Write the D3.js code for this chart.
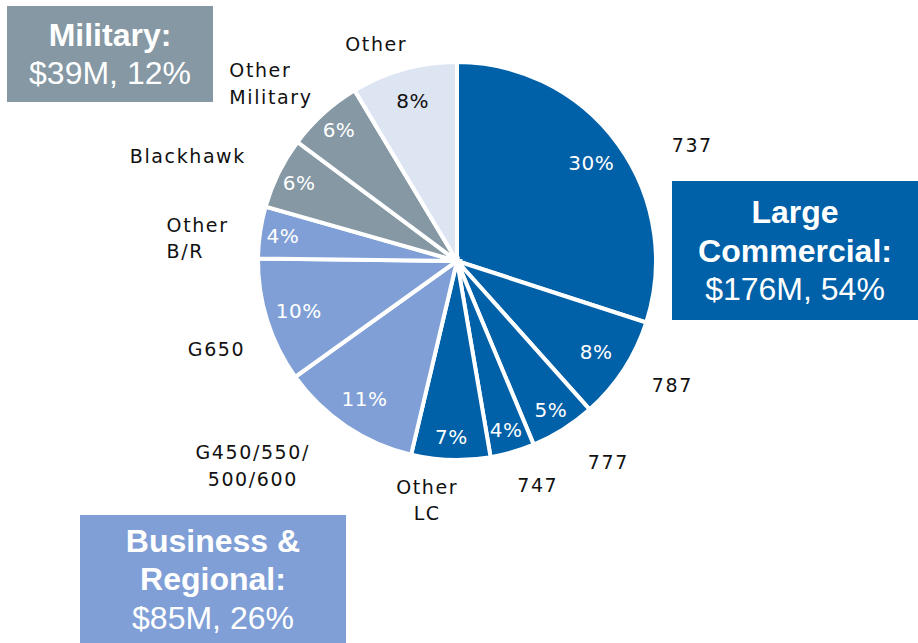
<!DOCTYPE html>
<html><head><meta charset="utf-8">
<script src="https://cdn.jsdelivr.net/npm/d3@7"></script>
<style>body{margin:0;background:#fff}svg{display:block}</style>
</head><body>
<svg id="c" width="918" height="643"></svg>
<script>
// ---- data ----
const categories = ["737","787","777","747","Other LC","G450/550/500/600","G650","Other B/R","Blackhawk","Other Military","Other"];
const shares = [30.0, 8.4, 5.3, 3.6, 6.4, 11.4, 10.1, 4.2, 5.8, 6.2, 8.6];
const pctLabels = ["30%","8%","5%","4%","7%","11%","10%","4%","6%","6%","8%"];
const segments = ["LC","LC","LC","LC","LC","BR","BR","BR","MIL","MIL","OTH"];
const labelLines = [["737"],["787"],["777"],["747"],["Other","LC"],["G450/550/","500/600"],["G650"],["Other","B/R"],["Blackhawk"],["Other","Military"],["Other"]];
const groupNames = ["Large Commercial:", "Business & Regional:", "Military:"];
const groupTitles = [["Large","Commercial:"],["Business &","Regional:"],["Military:"]];
const groupValues = ["$176M, 54%","$85M, 26%","$39M, 12%"];

// ---- style ----
const colors = {LC:"#0060A8", BR:"#7F9FD6", MIL:"#8598A4", OTH:"#DDE5F3"};
const cx = 457, cy = 261, R = 199;
// label nudges (style only)
const nudge = {
  "737":{dx:33,dy:31,a:"middle"}, "787":{dx:6,dy:-13,a:"middle"}, "777":{dx:18,dy:-11,a:"middle"},
  "747":{dx:11,dy:-16,a:"middle"}, "Other LC":{dx:-22,dy:-11,a:"middle"},
  "G450/550/500/600":{dx:-65,dy:-3,a:"middle"}, "G650":{dx:-2,dy:13,a:"middle"},
  "Other B/R":{dx:-43,dy:13,a:"start"}, "Blackhawk":{dx:-45,dy:6,a:"middle"},
  "Other Military":{dx:-60,dy:8,a:"start"}, "Other":{dx:-14,dy:24,a:"middle"}
};

const svg = d3.select("#c");
const data = categories.map((c,i)=>({name:c, value:shares[i], pct:pctLabels[i], seg:segments[i], lines:labelLines[i]}));
const pie = d3.pie().value(d=>d.value).sort(null);
const arcs = pie(data);
const arc = d3.arc().innerRadius(0).outerRadius(R);
const pctArc = d3.arc().innerRadius(166).outerRadius(166);
const labArc = d3.arc().innerRadius(250).outerRadius(250);

const g = svg.append("g").attr("transform",`translate(${cx},${cy})`);
g.selectAll("path.s").data(arcs).join("path").attr("class","s")
  .attr("d",arc).attr("fill",d=>colors[d.data.seg])
  .attr("stroke","#fff").attr("stroke-width",4).attr("stroke-linejoin","miter");

g.selectAll("text.p").data(arcs).join("text").attr("class","p")
  .attr("transform",d=>{const [x,y]=pctArc.centroid(d); const k=(d.endAngle-d.startAngle)<0.45?1.06:1; return `translate(${x*k},${y*k})`;})
  .attr("text-anchor","middle").attr("dominant-baseline","central")
  .attr("font-family","DejaVu Sans, Verdana, sans-serif").attr("font-size",20)
  .attr("letter-spacing",0.5)
  .attr("fill",d=>d.data.seg==="OTH"?"#111":"#fff")
  .text(d=>d.data.pct);

const lh = 26.5;
g.selectAll("text.l").data(arcs).join("text").attr("class","l")
  .each(function(d){
    const n = nudge[d.data.name];
    const [x,y] = labArc.centroid(d);
    const t = d3.select(this).attr("x",x+n.dx).attr("text-anchor",n.a)
      .attr("font-family","DejaVu Sans, Verdana, sans-serif").attr("font-size",19)
      .attr("letter-spacing",1.6).attr("fill","#111");
    const L = d.data.lines;
    L.forEach((s,i)=>{
      t.append("tspan").attr("x",x+n.dx).attr("y",y+n.dy+(i-(L.length-1)/2)*lh)
        .attr("dominant-baseline","central").text(s);
    });
  });

// ---- group boxes ----
const boxes = [
  {x:672,y:181,w:246,h:139,c:colors.LC, i:0},
  {x:80,y:515,w:266,h:128,c:colors.BR, i:1},
  {x:7,y:6,w:206,h:96,c:colors.MIL, i:2}
];
boxes.forEach(b=>{
  const bg = svg.append("g");
  bg.append("rect").attr("x",b.x).attr("y",b.y).attr("width",b.w).attr("height",b.h).attr("fill",b.c);
  const lines = groupTitles[b.i].map(s=>({s,bold:true})).concat([{s:groupValues[b.i],bold:false}]);
  const step = 38.5;
  const mid = b.y + b.h/2;
  lines.forEach((ln,k)=>{
    bg.append("text").attr("x",b.x+b.w/2).attr("y",mid+(k-(lines.length-1)/2)*step)
      .attr("text-anchor","middle").attr("dominant-baseline","central")
      .attr("font-family","Liberation Sans, Arial, sans-serif").attr("font-size",32)
      .attr("font-weight",ln.bold?"bold":"normal").attr("fill","#fff").text(ln.s);
  });
});
</script>
</body></html>
